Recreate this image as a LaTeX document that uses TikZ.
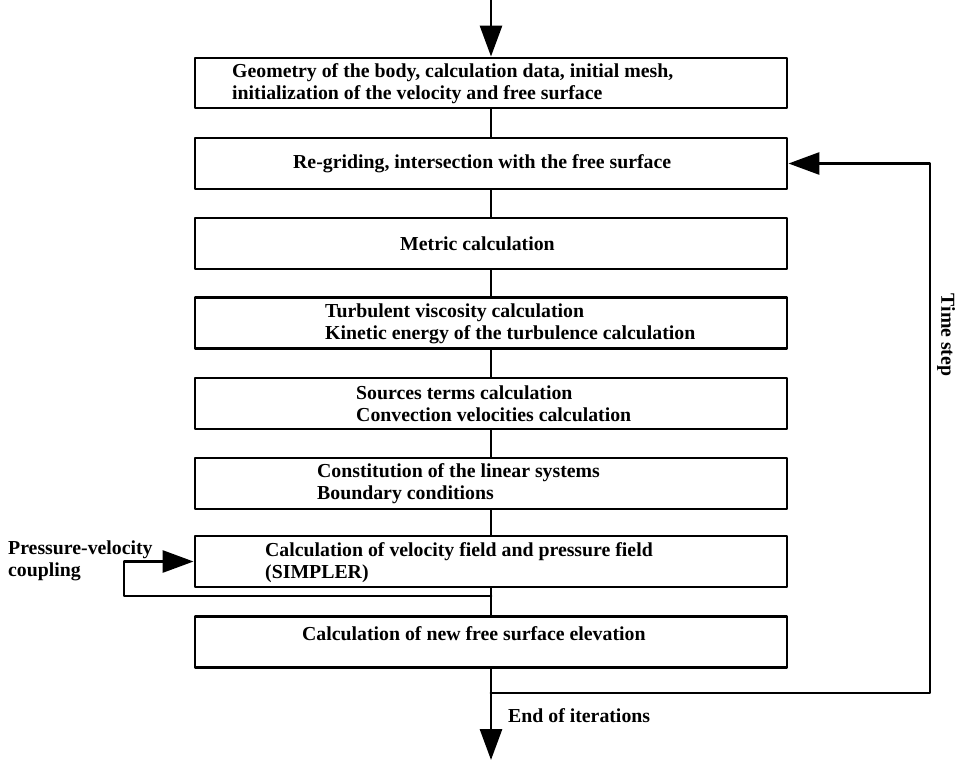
\documentclass[tikz,border=0pt]{standalone}
\usepackage{fontspec}
\setmainfont{Liberation Serif}
\usetikzlibrary{arrows.meta}
\tikzset{
    stage/.style = {draw, line width=2.9pt, minimum width=592pt, minimum height=51pt, inner sep=0pt},
    stagetext/.style = {anchor=west, align=left, inner sep=0pt, font=\bfseries\fontsize{19.8}{22}\selectfont},
    link/.style = {line width=2.9pt},
    flow/.style = {line width=2.9pt, -{Triangle[length=31pt,width=22pt]}}
}

\begin{document}
\begin{tikzpicture}[line cap=round,line join=round,x=1pt,y=-1pt]
    \useasboundingbox (0,0) rectangle (958,763);

    % boxes
    \node [stage, minimum height=50pt] (b1) at (491,83) {};
    \node [stage] (b2) at (491,163.5) {};
    \node [stage] (b3) at (491,243.5) {};
    \node [stage] (b4) at (491,323) {};
    \node [stage] (b5) at (491,403.5) {};
    \node [stage] (b6) at (491,483.5) {};
    \node [stage] (b7) at (491,561.5) {};
    \node [stage] (b8) at (491,642) {};

    \node [stagetext] (t1) at (232,84) {Geometry of the body, calculation data, initial mesh,\\initialization of the velocity and free surface};
    \node [stagetext] (t2) at (293,163.5) {Re-griding, intersection with the free surface};
    \node [stagetext] (t3) at (400,243.5) {Metric calculation};
    \node [stagetext] (t4) at (325,324) {Turbulent viscosity calculation\\Kinetic energy of the turbulence calculation};
    \node [stagetext] (t5) at (356,404) {Sources terms calculation\\Convection velocities calculation};
    \node [stagetext] (t6) at (317,484) {Constitution of the linear systems\\Boundary conditions};
    \node [stagetext] (t7) at (265,563) {Calculation of velocity field and pressure field\\(SIMPLER)};
    \node [stagetext] (t8) at (302,634) {Calculation of new free surface elevation};

    % main line
    \coordinate (in) at (491,0);
    \coordinate (out) at (491,760);
    \draw [flow] (in) -- (b1);
    \foreach \a/\b in {b1/b2,b2/b3,b3/b4,b4/b5,b5/b6,b6/b7,b7/b8}
        \draw [link] (\a) -- (\b);
    \draw [flow] (b8) -- (out);

    % loops
    \coordinate (tsfork) at (491,693);
    \coordinate (tscorner) at (930,693);
    \draw [flow] (tsfork) -- (tscorner) |- (b2.east);
    \coordinate (pvfork) at (491,596);
    \coordinate (pvcorner) at (124,596);
    \draw [flow] (pvfork) -- (pvcorner) |- (b7.west);

    \node [stagetext, rotate=-90, anchor=center] (tslabel) at (946,335) {Time step};
    \node [stagetext, anchor=north west] (pvlabel) at (8,541) {Pressure-velocity\\coupling};
    \node [stagetext, anchor=base west] (endlabel) at (508,722) {End of iterations};
\end{tikzpicture}
\end{document}
